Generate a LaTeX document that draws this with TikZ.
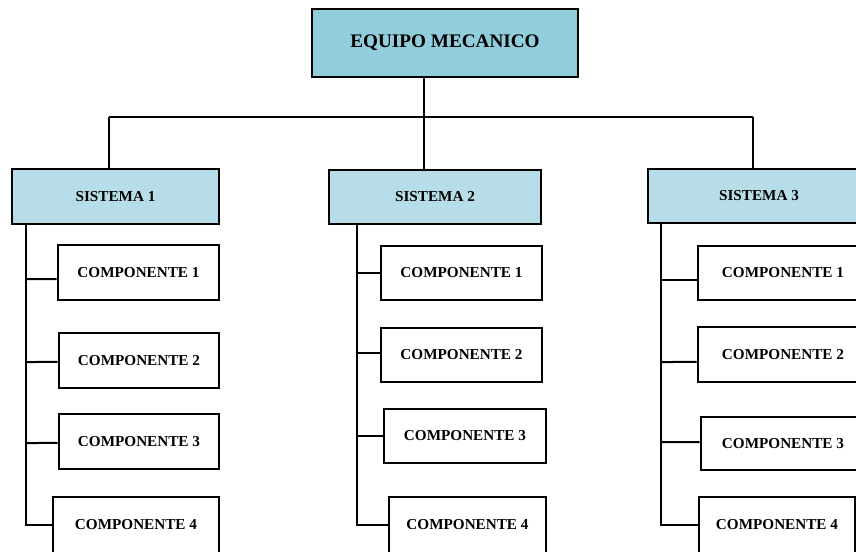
\documentclass[tikz,border=0pt]{standalone}
\usepackage{fontspec}
\setmainfont{Liberation Serif}
\definecolor{rootfill}{HTML}{92CDDC}
\definecolor{sysfill}{HTML}{B7DEE8}
\tikzset{
  sbox/.style 2 args={draw=black, line width=2.2pt, rectangle, inner sep=0pt,
    minimum width={#1*0.75pt}, minimum height={#2*0.75pt},
    font=\bfseries\fontsize{11.4}{13}\selectfont},
  rootbox/.style={fill=rootfill, font=\bfseries\fontsize{14.4}{16}\selectfont},
  sysbox/.style={fill=sysfill},
  compbox/.style={fill=white},
  link/.style={draw=black, line width=1.5pt},
}
\begin{document}
\begin{tikzpicture}[x=0.75pt, y=-0.75pt]
\useasboundingbox (0,0) rectangle (856,551);
\clip (0,0) rectangle (856,551);

% root
\node[sbox={266}{68}, rootbox] (root) at (445,43) {EQUIPO MECANICO};

% systems
\node[sbox={207}{55}, sysbox] (s1) at (115.5,196.5) {SISTEMA 1};
\node[sbox={212}{54}, sysbox] (s2) at (435,197) {SISTEMA 2};
\node[sbox={222}{54}, sysbox] (s3) at (759,196) {SISTEMA 3};

% components of system 1
\node[sbox={161}{55}, compbox] (c11) at (138.5,272.5) {COMPONENTE 1};
\node[sbox={160}{55}, compbox] (c12) at (139,360.5) {COMPONENTE 2};
\node[sbox={160}{55}, compbox] (c13) at (139,441.5) {COMPONENTE 3};
\node[sbox={166}{56}, compbox] (c14) at (136,525) {COMPONENTE 4};

% components of system 2
\node[sbox={161}{54}, compbox] (c21) at (461.5,273) {COMPONENTE 1};
\node[sbox={161}{54}, compbox] (c22) at (461.5,355) {COMPONENTE 2};
\node[sbox={162}{54}, compbox] (c23) at (465,436) {COMPONENTE 3};
\node[sbox={157}{56}, compbox] (c24) at (467.5,525) {COMPONENTE 4};

% components of system 3
\node[sbox={170}{54}, compbox] (c31) at (783,273) {COMPONENTE 1};
\node[sbox={170}{55}, compbox] (c32) at (783,354.5) {COMPONENTE 2};
\node[sbox={164}{53}, compbox] (c33) at (783,443.5) {COMPONENTE 3};
\node[sbox={156}{56}, compbox] (c34) at (777,525) {COMPONENTE 4};

% bus from the root to the three systems
\coordinate (bus) at (424,117);
\coordinate (d1) at (109,117);
\coordinate (d3) at (753,117);
\draw[link, line width=1.2pt] (root.south -| bus) -- (bus);
\draw[link] (d1) -- (d3);
\draw[link] (d1) -- (d1 |- s1.north);
\draw[link] (bus) -- (bus |- s2.north);
\draw[link] (d3) -- (d3 |- s3.north);

% trunks down each system, with branches into the components
\coordinate (t1) at (26,0);
\coordinate (t2) at (357,0);
\coordinate (t3) at (661,0);
\draw[link] (s1.south -| t1) |- (c14.west);
\draw[link] (t1 |- c11.west) ++(0,6.5) -- ([yshift=-4.9pt]c11.west);
\draw[link] (t1 |- c12.west) ++(0,1.5) -- ([yshift=-1.1pt]c12.west);
\draw[link] (t1 |- c13.west) ++(0,1.5) -- ([yshift=-1.1pt]c13.west);

\draw[link] (s2.south -| t2) |- (c24.west);
\draw[link] (t2 |- c21.west) -- (c21.west);
\draw[link] (t2 |- c22.west) ++(0,-2) -- ([yshift=1.5pt]c22.west);
\draw[link] (t2 |- c23.west) -- (c23.west);

\draw[link] (s3.south -| t3) |- (c34.west);
\draw[link] (t3 |- c31.west) ++(0,7) -- ([yshift=-5.25pt]c31.west);
\draw[link] (t3 |- c32.west) ++(0,7.5) -- ([yshift=-5.6pt]c32.west);
\draw[link] (t3 |- c33.west) ++(0,-1.5) -- ([yshift=1.1pt]c33.west);
\end{tikzpicture}
\end{document}
